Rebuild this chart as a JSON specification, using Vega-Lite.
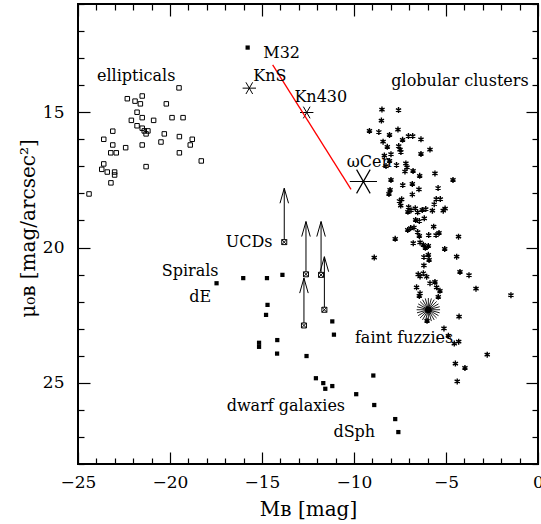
{
  "$schema": "https://vega.github.io/schema/vega-lite/v6.json",
  "width": 460,
  "height": 460,
  "autosize": {"type": "none"},
  "padding": {"left": 78, "top": 4, "right": 3, "bottom": 60},
  "background": "white",
  "config": {"view": {"stroke": "black", "strokeWidth": 2}},
  "datasets": {
    "ellipticals": [
      {"MB": -19.51, "mu": 14.10}, {"MB": -21.51, "mu": 14.40}, {"MB": -22.32, "mu": 14.50}, {"MB": -21.90, "mu": 14.59},
      {"MB": -21.61, "mu": 14.69}, {"MB": -20.20, "mu": 14.69}, {"MB": -21.79, "mu": 15.00}, {"MB": -21.51, "mu": 15.20},
      {"MB": -19.89, "mu": 15.20}, {"MB": -19.29, "mu": 15.20}, {"MB": -22.10, "mu": 15.30}, {"MB": -20.89, "mu": 15.30},
      {"MB": -21.79, "mu": 15.50}, {"MB": -21.51, "mu": 15.59}, {"MB": -21.40, "mu": 15.69}, {"MB": -21.20, "mu": 15.69},
      {"MB": -21.30, "mu": 15.80}, {"MB": -23.11, "mu": 15.70}, {"MB": -20.31, "mu": 15.80}, {"MB": -19.49, "mu": 15.90},
      {"MB": -18.79, "mu": 16.00}, {"MB": -23.60, "mu": 16.00}, {"MB": -20.49, "mu": 16.10}, {"MB": -18.90, "mu": 16.21},
      {"MB": -23.11, "mu": 16.21}, {"MB": -21.51, "mu": 16.21}, {"MB": -22.41, "mu": 16.31}, {"MB": -23.22, "mu": 16.50},
      {"MB": -22.92, "mu": 16.50}, {"MB": -19.49, "mu": 16.50}, {"MB": -18.30, "mu": 16.80}, {"MB": -23.60, "mu": 16.91},
      {"MB": -23.71, "mu": 17.11}, {"MB": -23.41, "mu": 17.21}, {"MB": -23.01, "mu": 17.21}, {"MB": -23.01, "mu": 17.32},
      {"MB": -21.30, "mu": 17.01}, {"MB": -23.21, "mu": 17.61}, {"MB": -24.40, "mu": 18.02}
    ],
    "dwarfs": [
      {"MB": -15.78, "mu": 12.61}, {"MB": -17.47, "mu": 21.32}, {"MB": -16.02, "mu": 21.13}, {"MB": -14.73, "mu": 21.13},
      {"MB": -13.89, "mu": 21.01}, {"MB": -14.70, "mu": 22.12}, {"MB": -14.78, "mu": 22.49}, {"MB": -15.16, "mu": 23.52},
      {"MB": -15.16, "mu": 23.67}, {"MB": -14.17, "mu": 23.42}, {"MB": -14.18, "mu": 23.92}, {"MB": -12.58, "mu": 24.01},
      {"MB": -11.18, "mu": 22.73}, {"MB": -11.09, "mu": 23.22}, {"MB": -12.07, "mu": 24.83}, {"MB": -11.67, "mu": 25.01},
      {"MB": -11.56, "mu": 25.22}, {"MB": -11.18, "mu": 25.12}, {"MB": -9.88, "mu": 25.42}, {"MB": -8.95, "mu": 24.73},
      {"MB": -8.90, "mu": 25.82}, {"MB": -7.76, "mu": 26.34}, {"MB": -7.59, "mu": 26.82}
    ],
    "gcs": [
      {"MB": -8.48, "mu": 14.90}, {"MB": -7.58, "mu": 14.92}, {"MB": -8.51, "mu": 15.31}, {"MB": -9.16, "mu": 15.69},
      {"MB": -8.65, "mu": 15.73}, {"MB": -7.61, "mu": 15.64}, {"MB": -8.07, "mu": 15.84}, {"MB": -7.04, "mu": 15.88},
      {"MB": -6.81, "mu": 15.88}, {"MB": -6.36, "mu": 16.00}, {"MB": -8.42, "mu": 16.09}, {"MB": -7.36, "mu": 16.02},
      {"MB": -8.19, "mu": 16.28}, {"MB": -7.57, "mu": 16.25}, {"MB": -7.50, "mu": 16.38}, {"MB": -7.45, "mu": 16.47},
      {"MB": -5.87, "mu": 16.38}, {"MB": -6.36, "mu": 16.54}, {"MB": -7.99, "mu": 16.55}, {"MB": -8.35, "mu": 16.60},
      {"MB": -8.07, "mu": 16.80}, {"MB": -8.26, "mu": 16.99}, {"MB": -7.69, "mu": 16.95}, {"MB": -7.18, "mu": 16.89},
      {"MB": -7.12, "mu": 17.04}, {"MB": -7.23, "mu": 17.19}, {"MB": -6.79, "mu": 17.17}, {"MB": -6.43, "mu": 17.35},
      {"MB": -5.60, "mu": 17.26}, {"MB": -4.62, "mu": 17.50}, {"MB": -7.99, "mu": 17.50}, {"MB": -7.35, "mu": 17.69},
      {"MB": -6.83, "mu": 17.65}, {"MB": -8.04, "mu": 17.87}, {"MB": -8.10, "mu": 18.02}, {"MB": -6.47, "mu": 17.85},
      {"MB": -5.43, "mu": 17.80}, {"MB": -6.83, "mu": 18.04}, {"MB": -7.53, "mu": 18.28}, {"MB": -7.41, "mu": 18.22},
      {"MB": -7.46, "mu": 18.45}, {"MB": -5.53, "mu": 18.21}, {"MB": -5.31, "mu": 18.21}, {"MB": -5.64, "mu": 18.40},
      {"MB": -7.03, "mu": 18.51}, {"MB": -6.90, "mu": 18.62}, {"MB": -7.07, "mu": 18.68}, {"MB": -6.67, "mu": 18.55},
      {"MB": -6.54, "mu": 18.70}, {"MB": -6.29, "mu": 18.61}, {"MB": -6.10, "mu": 18.58}, {"MB": -5.74, "mu": 18.64},
      {"MB": -5.15, "mu": 18.64}, {"MB": -5.05, "mu": 18.56}, {"MB": -6.65, "mu": 18.98}, {"MB": -6.45, "mu": 19.02},
      {"MB": -6.18, "mu": 18.92}, {"MB": -5.67, "mu": 19.23}, {"MB": -7.08, "mu": 19.35}, {"MB": -6.92, "mu": 19.28},
      {"MB": -6.74, "mu": 19.26}, {"MB": -6.54, "mu": 19.43}, {"MB": -6.45, "mu": 19.57}, {"MB": -5.94, "mu": 19.54},
      {"MB": -5.54, "mu": 19.54}, {"MB": -5.38, "mu": 19.46}, {"MB": -4.32, "mu": 19.60}, {"MB": -7.76, "mu": 19.68},
      {"MB": -6.78, "mu": 19.84}, {"MB": -6.41, "mu": 19.81}, {"MB": -6.23, "mu": 19.90}, {"MB": -6.12, "mu": 20.01},
      {"MB": -5.96, "mu": 19.94}, {"MB": -5.07, "mu": 20.05}, {"MB": -5.96, "mu": 20.27}, {"MB": -4.42, "mu": 20.34},
      {"MB": -8.90, "mu": 20.37}, {"MB": -6.20, "mu": 20.35}, {"MB": -5.92, "mu": 20.46}, {"MB": -6.20, "mu": 20.66},
      {"MB": -6.51, "mu": 20.99}, {"MB": -6.41, "mu": 21.07}, {"MB": -6.23, "mu": 20.95}, {"MB": -6.05, "mu": 21.08},
      {"MB": -4.24, "mu": 20.90}, {"MB": -3.75, "mu": 21.02}, {"MB": -5.87, "mu": 21.32}, {"MB": -5.60, "mu": 21.27},
      {"MB": -6.60, "mu": 21.47}, {"MB": -5.51, "mu": 21.47}, {"MB": -5.33, "mu": 21.60}, {"MB": -3.37, "mu": 21.52},
      {"MB": -1.47, "mu": 21.76}, {"MB": -6.41, "mu": 21.69}, {"MB": -6.45, "mu": 21.79}, {"MB": -5.42, "mu": 21.82},
      {"MB": -4.29, "mu": 22.55}, {"MB": -6.03, "mu": 22.71}, {"MB": -5.11, "mu": 22.99}, {"MB": -4.87, "mu": 23.26},
      {"MB": -4.55, "mu": 23.55}, {"MB": -4.31, "mu": 23.48}, {"MB": -2.76, "mu": 23.96}, {"MB": -4.49, "mu": 24.29},
      {"MB": -3.97, "mu": 24.45}, {"MB": -4.39, "mu": 24.95}
    ],
    "fuzzy": [{"MB": -5.96, "mu": 22.30}],
    "knots": [{"name": "KnS", "MB": -15.69, "mu": 14.11}, {"name": "Kn430", "MB": -12.57, "mu": 15.01}],
    "omegacen": [{"name": "ωCen", "MB": -9.49, "mu": 17.56}],
    "track": [{"MB": -14.42, "mu": 13.25}, {"MB": -10.16, "mu": 17.85}],
    "ucds": [
      {"MB": -13.79, "mu": 19.80, "limit": 17.81},
      {"MB": -12.61, "mu": 20.99, "limit": 19.04},
      {"MB": -11.79, "mu": 21.01, "limit": 19.04},
      {"MB": -12.72, "mu": 22.88, "limit": 21.13},
      {"MB": -11.61, "mu": 22.30, "limit": 20.34}
    ],
    "labels": [
      {"MB": -23.97, "mu": 13.84, "text": "ellipticals"},
      {"MB": -14.93, "mu": 13.01, "text": "M32"},
      {"MB": -15.47, "mu": 13.83, "text": "KnS"},
      {"MB": -13.24, "mu": 14.61, "text": "Kn430"},
      {"MB": -10.40, "mu": 17.01, "text": "ωCen"},
      {"MB": -7.97, "mu": 14.03, "text": "globular clusters"},
      {"MB": -16.97, "mu": 19.97, "text": "UCDs"},
      {"MB": -20.45, "mu": 21.04, "text": "Spirals"},
      {"MB": -18.95, "mu": 22.02, "text": "dE"},
      {"MB": -9.95, "mu": 23.53, "text": "faint fuzzies"},
      {"MB": -16.92, "mu": 26.04, "text": "dwarf galaxies"},
      {"MB": -11.12, "mu": 27.01, "text": "dSph"}
    ]
  },
  "resolve": {"axis": {"x": "independent", "y": "independent"}},
  "layer": [
    {
      "data": {"name": "ellipticals"},
      "mark": {"type": "point", "shape": "square", "filled": false, "stroke": "black", "strokeWidth": 1, "size": 20, "opacity": 1},
      "encoding": {
        "x": {"field": "MB", "type": "quantitative", "scale": {"domain": [-25, 0], "nice": false, "zero": false},
          "axis": {"orient": "bottom", "values": [-25,-24,-23,-22,-21,-20,-19,-18,-17,-16,-15,-14,-13,-12,-11,-10,-9,-8,-7,-6,-5,-4,-3,-2,-1,0],
            "labelExpr": "datum.value % 5 === 0 ? datum.label : ''",
            "tickSize": {"condition": {"test": "datum.value % 5 === 0", "value": -12}, "value": -6},
            "tickColor": "black", "tickWidth": 1.2, "domain": false, "grid": false,
            "labelFont": "DejaVu Serif, Liberation Serif, serif", "labelFontSize": 17, "labelColor": "black", "labelPadding": 22,
            "labelFlush": false, "labelOverlap": false,
            "title": "Mʙ [mag]", "titleFont": "DejaVu Serif, Liberation Serif, serif", "titleFontSize": 20, "titleFontWeight": "normal", "titleColor": "black", "titlePadding": 3}},
        "y": {"field": "mu", "type": "quantitative", "scale": {"domain": [11, 28], "nice": false, "zero": false, "reverse": true},
          "axis": {"orient": "left", "values": [11,12,13,14,15,16,17,18,19,20,21,22,23,24,25,26,27,28],
            "labelExpr": "datum.value % 5 === 0 ? datum.label : ''",
            "tickSize": {"condition": {"test": "datum.value % 5 === 0", "value": -12}, "value": -6},
            "tickColor": "black", "tickWidth": 1.2, "domain": false, "grid": false,
            "labelFont": "DejaVu Serif, Liberation Serif, serif", "labelFontSize": 17, "labelColor": "black", "labelPadding": 26,
            "labelFlush": false, "labelOverlap": false,
            "title": "μ₀ʙ [mag/arcsec²]", "titleFont": "DejaVu Serif, Liberation Serif, serif", "titleFontSize": 20, "titleFontWeight": "normal", "titleColor": "black",
            "titleX": -50, "titleY": 224, "titleAngle": 270, "titleBaseline": "middle", "titleAlign": "center"}}
      }
    },
    {
      "data": {"name": "dwarfs"},
      "mark": {"type": "point", "shape": "square", "filled": true, "fill": "black", "size": 18, "opacity": 1},
      "encoding": {
        "x": {"field": "MB", "type": "quantitative", "scale": {"domain": [-25, 0], "nice": false, "zero": false},
          "axis": {"orient": "top", "values": [-25,-24,-23,-22,-21,-20,-19,-18,-17,-16,-15,-14,-13,-12,-11,-10,-9,-8,-7,-6,-5,-4,-3,-2,-1,0],
            "labels": false,
            "tickSize": {"condition": {"test": "datum.value % 5 === 0", "value": -12}, "value": -6},
            "tickColor": "black", "tickWidth": 1.2, "domain": false, "grid": false, "title": null}},
        "y": {"field": "mu", "type": "quantitative", "scale": {"domain": [11, 28], "nice": false, "zero": false, "reverse": true},
          "axis": {"orient": "right", "values": [11,12,13,14,15,16,17,18,19,20,21,22,23,24,25,26,27,28],
            "labels": false,
            "tickSize": {"condition": {"test": "datum.value % 5 === 0", "value": -12}, "value": -6},
            "tickColor": "black", "tickWidth": 1.2, "domain": false, "grid": false, "title": null}}
      }
    },
    {
      "data": {"name": "gcs"},
      "mark": {"type": "point", "shape": "M0,-1L0,1M-0.87,-0.5L0.87,0.5M-0.87,0.5L0.87,-0.5", "filled": false, "stroke": "black", "strokeWidth": 1.4, "size": 36, "opacity": 1},
      "encoding": {
        "x": {"field": "MB", "type": "quantitative", "scale": {"domain": [-25, 0], "nice": false, "zero": false}, "axis": null},
        "y": {"field": "mu", "type": "quantitative", "scale": {"domain": [11, 28], "nice": false, "zero": false, "reverse": true}, "axis": null}
      }
    },
    {
      "data": {"name": "fuzzy"},
      "mark": {"type": "point", "shape": "M-1,0L1,0M-0.966,-0.259L0.966,0.259M-0.866,-0.5L0.866,0.5M-0.707,-0.707L0.707,0.707M-0.5,-0.866L0.5,0.866M-0.259,-0.966L0.259,0.966M0,-1L0,1M0.259,-0.966L-0.259,0.966M0.5,-0.866L-0.5,0.866M0.707,-0.707L-0.707,0.707M0.866,-0.5L-0.866,0.5M0.966,-0.259L-0.966,0.259", "filled": false, "stroke": "black", "strokeWidth": 0.9, "size": 550, "opacity": 1},
      "encoding": {
        "x": {"field": "MB", "type": "quantitative", "scale": {"domain": [-25, 0], "nice": false, "zero": false}, "axis": null},
        "y": {"field": "mu", "type": "quantitative", "scale": {"domain": [11, 28], "nice": false, "zero": false, "reverse": true}, "axis": null}
      }
    },
    {
      "data": {"name": "fuzzy"},
      "mark": {"type": "point", "shape": "circle", "filled": true, "fill": "black", "size": 45, "opacity": 1},
      "encoding": {
        "x": {"field": "MB", "type": "quantitative", "scale": {"domain": [-25, 0], "nice": false, "zero": false}, "axis": null},
        "y": {"field": "mu", "type": "quantitative", "scale": {"domain": [11, 28], "nice": false, "zero": false, "reverse": true}, "axis": null}
      }
    },
    {
      "data": {"name": "knots"},
      "mark": {"type": "point", "shape": "M-1,0L1,0M-0.5,-0.87L0.5,0.87M-0.5,0.87L0.5,-0.87", "filled": false, "stroke": "black", "strokeWidth": 1, "size": 180, "opacity": 1},
      "encoding": {
        "x": {"field": "MB", "type": "quantitative", "scale": {"domain": [-25, 0], "nice": false, "zero": false}, "axis": null},
        "y": {"field": "mu", "type": "quantitative", "scale": {"domain": [11, 28], "nice": false, "zero": false, "reverse": true}, "axis": null}
      }
    },
    {
      "data": {"name": "omegacen"},
      "mark": {"type": "point", "shape": "M-1,0L1,0M-0.5,-0.87L0.5,0.87M-0.5,0.87L0.5,-0.87", "filled": false, "stroke": "black", "strokeWidth": 1.2, "size": 740, "opacity": 1},
      "encoding": {
        "x": {"field": "MB", "type": "quantitative", "scale": {"domain": [-25, 0], "nice": false, "zero": false}, "axis": null},
        "y": {"field": "mu", "type": "quantitative", "scale": {"domain": [11, 28], "nice": false, "zero": false, "reverse": true}, "axis": null}
      }
    },
    {
      "data": {"name": "track"},
      "mark": {"type": "line", "color": "red", "strokeWidth": 1.3},
      "encoding": {
        "x": {"field": "MB", "type": "quantitative", "scale": {"domain": [-25, 0], "nice": false, "zero": false}, "axis": null},
        "y": {"field": "mu", "type": "quantitative", "scale": {"domain": [11, 28], "nice": false, "zero": false, "reverse": true}, "axis": null}
      }
    },
    {
      "data": {"name": "ucds"},
      "mark": {"type": "rule", "color": "black", "strokeWidth": 1},
      "encoding": {
        "x": {"field": "MB", "type": "quantitative", "scale": {"domain": [-25, 0], "nice": false, "zero": false}, "axis": null},
        "y": {"field": "mu", "type": "quantitative", "scale": {"domain": [11, 28], "nice": false, "zero": false, "reverse": true}, "axis": null},
        "y2": {"field": "limit"}
      }
    },
    {
      "data": {"name": "ucds"},
      "mark": {"type": "point", "shape": "M-0.57,2L0,0L0.57,2", "filled": false, "stroke": "black", "strokeWidth": 1, "size": 225, "opacity": 1},
      "encoding": {
        "x": {"field": "MB", "type": "quantitative", "scale": {"domain": [-25, 0], "nice": false, "zero": false}, "axis": null},
        "y": {"field": "limit", "type": "quantitative", "scale": {"domain": [11, 28], "nice": false, "zero": false, "reverse": true}, "axis": null}
      }
    },
    {
      "data": {"name": "ucds"},
      "mark": {"type": "point", "shape": "M-1,-1L1,-1L1,1L-1,1ZM-1,-1L1,1M-1,1L1,-1", "filled": true, "fill": "white", "stroke": "black", "strokeWidth": 1, "size": 25, "opacity": 1},
      "encoding": {
        "x": {"field": "MB", "type": "quantitative", "scale": {"domain": [-25, 0], "nice": false, "zero": false}, "axis": null},
        "y": {"field": "mu", "type": "quantitative", "scale": {"domain": [11, 28], "nice": false, "zero": false, "reverse": true}, "axis": null}
      }
    },
    {
      "data": {"name": "labels"},
      "mark": {"type": "text", "align": "left", "baseline": "alphabetic", "font": "DejaVu Serif, Liberation Serif, serif", "fontSize": 16, "color": "black"},
      "encoding": {
        "x": {"field": "MB", "type": "quantitative", "scale": {"domain": [-25, 0], "nice": false, "zero": false}, "axis": null},
        "y": {"field": "mu", "type": "quantitative", "scale": {"domain": [11, 28], "nice": false, "zero": false, "reverse": true}, "axis": null},
        "text": {"field": "text"}
      }
    }
  ]
}
